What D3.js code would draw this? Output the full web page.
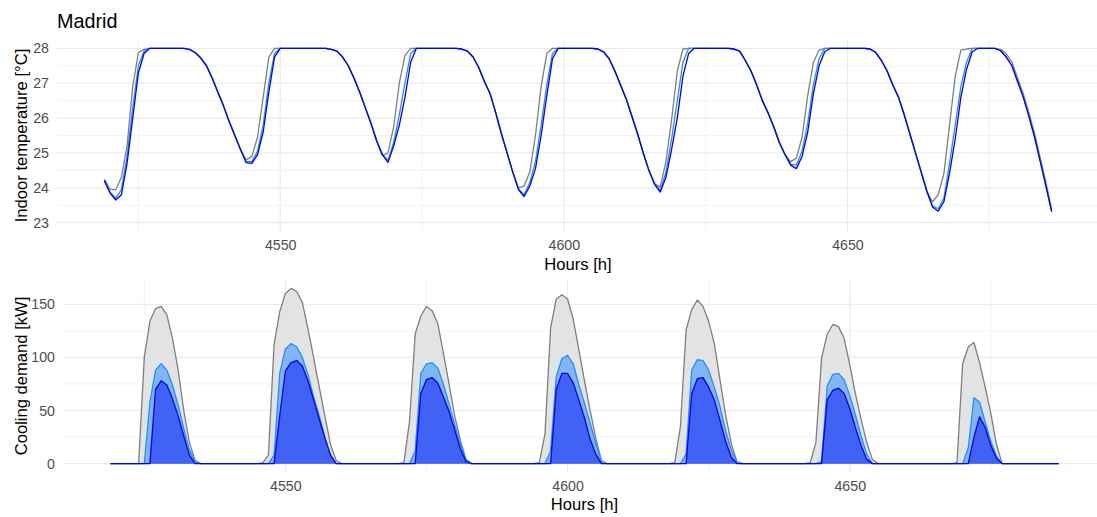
<!DOCTYPE html>
<html>
<head>
<meta charset="utf-8">
<script src="https://cdn.jsdelivr.net/npm/d3@7"></script>
<style>
  body { margin: 0; background: #fff; }
  svg { display: block; }
  text { font-family: "Liberation Sans", Arial, sans-serif; }
</style>
</head>
<body>
<svg id="chart" width="1097" height="517"></svg>
<script>
// Hourly simulation output for Madrid, starting at hour 4519.
const hourStart = 4519;

// Indoor temperature [°C], one value per hour (4519–4686)
const tempGrey = [
  24.25, 23.96, 23.94, 24.30, 25.20, 26.90, 27.88, 27.97, 28, 28, 28, 28, 28, 28, 28, 27.97, 27.88, 27.72, 27.50, 27.15, 26.75, 26.35, 25.90, 25.50,
  25.10, 24.80, 24.90, 25.45, 26.60, 27.75, 28, 28, 28, 28, 28, 28, 28, 28, 28, 28, 27.97, 27.92, 27.75, 27.50, 27.15, 26.75, 26.30, 25.85,
  25.35, 24.92, 25.00, 25.75, 27.00, 27.80, 28, 28, 28, 28, 28, 28, 28, 28, 28, 27.98, 27.92, 27.75, 27.45, 27.05, 26.70, 26.15, 25.55, 25.00,
  24.45, 24.00, 24.05, 24.45, 25.50, 26.90, 27.85, 28, 28, 28, 28, 28, 28, 28, 28, 27.98, 27.90, 27.70, 27.35, 26.95, 26.55, 26.05, 25.55, 25.00,
  24.50, 24.12, 24.02, 24.75, 25.95, 27.35, 27.98, 28, 28, 28, 28, 28, 28, 28, 28, 27.98, 27.92, 27.65, 27.35, 26.95, 26.50, 26.15, 25.75, 25.30,
  24.95, 24.75, 24.85, 25.45, 26.65, 27.60, 27.95, 28, 28, 28, 28, 28, 28, 28, 28, 27.98, 27.88, 27.65, 27.35, 26.95, 26.60, 26.10, 25.55, 25.00,
  24.45, 23.90, 23.60, 23.80, 24.40, 25.80, 27.20, 27.95, 27.98, 28, 28, 28, 28, 28, 27.97, 27.85, 27.60, 27.15, 26.70, 26.15, 25.55, 24.85, 24.15, 23.38
];
const tempLight = [
  24.20, 23.88, 23.70, 23.95, 24.90, 26.30, 27.50, 27.92, 28, 28, 28, 28, 28, 28, 28, 27.97, 27.88, 27.72, 27.50, 27.15, 26.75, 26.35, 25.90, 25.50,
  25.10, 24.75, 24.75, 25.05, 25.80, 27.00, 27.85, 28, 28, 28, 28, 28, 28, 28, 28, 28, 27.97, 27.92, 27.75, 27.50, 27.15, 26.75, 26.30, 25.85,
  25.35, 24.97, 24.78, 25.30, 26.10, 27.00, 27.85, 28, 28, 28, 28, 28, 28, 28, 28, 27.98, 27.92, 27.75, 27.45, 27.05, 26.70, 26.15, 25.55, 25.00,
  24.45, 23.97, 23.80, 24.15, 24.75, 25.80, 26.95, 27.85, 28, 28, 28, 28, 28, 28, 28, 27.98, 27.90, 27.70, 27.35, 26.95, 26.55, 26.05, 25.55, 25.00,
  24.50, 24.12, 23.92, 24.45, 25.40, 26.50, 27.60, 28, 28, 28, 28, 28, 28, 28, 28, 27.98, 27.92, 27.65, 27.35, 26.95, 26.50, 26.15, 25.75, 25.30,
  24.95, 24.68, 24.65, 25.05, 25.85, 26.95, 27.70, 28, 28, 28, 28, 28, 28, 28, 28, 27.98, 27.88, 27.65, 27.35, 26.95, 26.60, 26.10, 25.55, 25.00,
  24.45, 23.90, 23.48, 23.40, 23.70, 24.70, 25.80, 26.90, 27.60, 28, 28, 28, 28, 28, 27.93, 27.75, 27.50, 27.05, 26.60, 26.05, 25.45, 24.75, 24.05, 23.32
];
const tempBlue = [
  24.20, 23.85, 23.65, 23.80, 24.70, 26.00, 27.30, 27.85, 28, 28, 28, 28, 28, 28, 28, 27.97, 27.88, 27.72, 27.50, 27.15, 26.75, 26.35, 25.90, 25.50,
  25.10, 24.72, 24.70, 24.95, 25.60, 26.75, 27.75, 28, 28, 28, 28, 28, 28, 28, 28, 28, 27.97, 27.92, 27.75, 27.50, 27.15, 26.75, 26.30, 25.85,
  25.35, 24.95, 24.73, 25.20, 25.80, 26.60, 27.60, 28, 28, 28, 28, 28, 28, 28, 28, 27.98, 27.92, 27.75, 27.45, 27.05, 26.70, 26.15, 25.55, 25.00,
  24.45, 23.95, 23.75, 24.05, 24.55, 25.50, 26.65, 27.70, 28, 28, 28, 28, 28, 28, 28, 27.98, 27.90, 27.70, 27.35, 26.95, 26.55, 26.05, 25.55, 25.00,
  24.50, 24.10, 23.88, 24.30, 25.10, 26.00, 27.20, 27.85, 28, 28, 28, 28, 28, 28, 28, 27.98, 27.92, 27.65, 27.35, 26.95, 26.50, 26.15, 25.75, 25.30,
  24.95, 24.65, 24.55, 24.90, 25.60, 26.70, 27.50, 27.90, 28, 28, 28, 28, 28, 28, 28, 27.98, 27.88, 27.65, 27.35, 26.95, 26.60, 26.10, 25.55, 25.00,
  24.45, 23.90, 23.45, 23.33, 23.60, 24.42, 25.40, 26.60, 27.40, 27.90, 28, 28, 28, 28, 27.93, 27.75, 27.50, 27.05, 26.60, 26.05, 25.45, 24.75, 24.05, 23.32
];

// Cooling demand [kW], one value per hour (4519–4687)
const coolGrey = [
  0, 0, 0, 0, 0, 0, 100, 134, 146, 148, 140, 118, 88, 50, 20, 3, 0, 0, 0, 0, 0, 0, 0, 0,
  0, 0, 0, 1, 8, 112, 143, 160, 165, 162, 152, 127, 100, 72, 45, 18, 3, 0, 0, 0, 0, 0, 0, 0,
  0, 0, 0, 0, 1, 40, 122, 139, 148, 144, 132, 104, 75, 45, 22, 4, 0, 0, 0, 0, 0, 0, 0, 0,
  0, 0, 0, 0, 1, 28, 128, 155, 159, 155, 136, 107, 78, 50, 24, 3, 0, 0, 0, 0, 0, 0, 0, 0,
  0, 0, 0, 0, 1, 35, 126, 145, 154, 148, 134, 113, 79, 46, 19, 2, 0, 0, 0, 0, 0, 0, 0, 0,
  0, 0, 0, 0, 1, 20, 99, 122, 131, 129, 118, 93, 66, 42, 20, 4, 0, 0, 0, 0, 0, 0, 0, 0,
  0, 0, 0, 0, 0, 0, 1, 94, 110, 114, 95, 72, 47, 18, 0, 0, 0, 0, 0, 0, 0, 0, 0, 0, 0
];
const coolLight = [
  0, 0, 0, 0, 0, 0, 0, 58, 88, 94, 88, 74, 55, 33, 13, 2, 0, 0, 0, 0, 0, 0, 0, 0,
  0, 0, 0, 0, 0, 8, 85, 108, 113, 110, 100, 84, 63, 45, 25, 8, 0, 0, 0, 0, 0, 0, 0, 0,
  0, 0, 0, 0, 0, 0, 12, 85, 94, 95, 90, 75, 56, 37, 19, 3, 0, 0, 0, 0, 0, 0, 0, 0,
  0, 0, 0, 0, 0, 0, 12, 82, 99, 102, 94, 74, 57, 38, 19, 1, 0, 0, 0, 0, 0, 0, 0, 0,
  0, 0, 0, 0, 0, 0, 9, 88, 98, 97, 88, 72, 54, 31, 13, 1, 0, 0, 0, 0, 0, 0, 0, 0,
  0, 0, 0, 0, 0, 0, 2, 73, 84, 85, 79, 64, 46, 26, 9, 0, 0, 0, 0, 0, 0, 0, 0, 0,
  0, 0, 0, 0, 0, 0, 0, 0, 15, 62, 58, 39, 21, 7, 0, 0, 0, 0, 0, 0, 0, 0, 0, 0, 0
];
const coolBlue = [
  0, 0, 0, 0, 0, 0, 0, 0, 70, 78, 74, 61, 45, 26, 8, 0, 0, 0, 0, 0, 0, 0, 0, 0,
  0, 0, 0, 0, 0, 0, 45, 87, 95, 97, 92, 78, 60, 42, 24, 8, 0, 0, 0, 0, 0, 0, 0, 0,
  0, 0, 0, 0, 0, 0, 0, 66, 79, 81, 76, 63, 49, 32, 14, 2, 0, 0, 0, 0, 0, 0, 0, 0,
  0, 0, 0, 0, 0, 0, 0, 70, 85, 85, 76, 60, 43, 23, 9, 0, 0, 0, 0, 0, 0, 0, 0, 0,
  0, 0, 0, 0, 0, 0, 0, 66, 80, 81, 72, 60, 41, 21, 6, 0, 0, 0, 0, 0, 0, 0, 0, 0,
  0, 0, 0, 0, 0, 0, 0, 60, 69, 71, 66, 52, 34, 17, 4, 0, 0, 0, 0, 0, 0, 0, 0, 0,
  0, 0, 0, 0, 0, 0, 0, 0, 0, 25, 44, 34, 17, 5, 0, 0, 0, 0, 0, 0, 0, 0, 0, 0, 0
];

// Axis breaks
const hourTicks = [4550, 4600, 4650];
const hourMinor = [4525, 4575, 4625, 4675];
const tempTicks = [23, 24, 25, 26, 27, 28];
const tempMinor = [23.5, 24.5, 25.5, 26.5, 27.5];
const tempLimits = [23, 28];
const coolTicks = [0, 50, 100, 150];
const coolMinor = [25, 75, 125];

const seriesStyle = [
  { line: "#7f7f7f", fill: "#e3e3e3" },
  { line: "#1e90ff", fill: "#80b6f2" },
  { line: "#0000ff", fill: "#4262f6" }
];

const svg = d3.select("#chart");
const gridColor = "#ebebeb";
const intFmt = d3.format("d");
const tickFont = 14.2;

// 5 % padding on both ends, like the default continuous expansion
function expand([a, b], f = 0.05) {
  const p = (b - a) * f;
  return [a - p, b + p];
}

function drawGrid(g, x, y, xs, xsMinor, ys, ysMinor) {
  const [x0, x1] = x.range();
  const [y0, y1] = y.range();
  const grid = g.append("g");
  grid.selectAll("line.ym").data(ysMinor).join("line")
    .attr("x1", x0).attr("x2", x1).attr("y1", d => y(d)).attr("y2", d => y(d))
    .attr("stroke", gridColor).attr("stroke-width", 0.6);
  grid.selectAll("line.xm").data(xsMinor).join("line")
    .attr("y1", y0).attr("y2", y1).attr("x1", d => x(d)).attr("x2", d => x(d))
    .attr("stroke", gridColor).attr("stroke-width", 0.6);
  grid.selectAll("line.yM").data(ys).join("line")
    .attr("x1", x0).attr("x2", x1).attr("y1", d => y(d)).attr("y2", d => y(d))
    .attr("stroke", gridColor).attr("stroke-width", 1.2);
  grid.selectAll("line.xM").data(xs).join("line")
    .attr("y1", y0).attr("y2", y1).attr("x1", d => x(d)).attr("x2", d => x(d))
    .attr("stroke", gridColor).attr("stroke-width", 1.2);
}

function drawAxes(x, y, xs, ys) {
  const [yBottom] = y.range();
  const [xLeft] = x.range();
  const ax = svg.append("g").attr("transform", `translate(0,${yBottom})`)
    .call(d3.axisBottom(x).tickValues(xs).tickFormat(intFmt).tickSize(0).tickPadding(9));
  const ay = svg.append("g").attr("transform", `translate(${xLeft},0)`)
    .call(d3.axisLeft(y).tickValues(ys).tickFormat(intFmt).tickSize(0).tickPadding(8));
  [ax, ay].forEach(a => {
    a.select(".domain").remove();
    a.selectAll("text")
      .attr("font-family", '"Liberation Sans", Arial, sans-serif')
      .attr("font-size", tickFont).attr("fill", "#4d4d4d");
  });
}

function axisTitles(x, y, xTitle, yTitle, xBase) {
  const [xa, xb] = x.range();
  const [ya, yb] = y.range();
  svg.append("text").attr("x", (xa + xb) / 2).attr("y", xBase)
    .attr("text-anchor", "middle").attr("font-size", 16.6).attr("fill", "#000")
    .text(xTitle);
  svg.append("text")
    .attr("transform", `translate(27,${(ya + yb) / 2}) rotate(-90)`)
    .attr("text-anchor", "middle").attr("font-size", 16.6).attr("fill", "#000")
    .text(yTitle);
}

// ---------- Indoor temperature panel ----------
const hoursT = tempBlue.map((_, i) => hourStart + i);
const xT = d3.scaleLinear().domain(expand(d3.extent(hoursT))).range([57, 1099]);
const yT = d3.scaleLinear().domain(expand(tempLimits)).range([231.4, 39.6]);

const gT = svg.append("g");
drawGrid(gT, xT, yT, hourTicks, hourMinor, tempTicks, tempMinor);

const lineT = d3.line().x((d, i) => xT(hourStart + i)).y(d => yT(d));
[tempGrey, tempLight, tempBlue].forEach((s, k) => {
  gT.append("path").datum(s).attr("d", lineT)
    .attr("fill", "none").attr("stroke", seriesStyle[k].line)
    .attr("stroke-width", 1.3).attr("stroke-linejoin", "round");
});
drawAxes(xT, yT, hourTicks, tempTicks);
axisTitles(xT, yT, "Hours [h]", "Indoor temperature [°C]", 270);

// ---------- Cooling demand panel ----------
const hoursC = coolBlue.map((_, i) => hourStart + i);
const coolMax = d3.max([coolGrey, coolLight, coolBlue].flat());
const xC = d3.scaleLinear().domain(expand(d3.extent(hoursC))).range([63, 1106]);
const yC = d3.scaleLinear().domain(expand([0, coolMax])).range([472.4, 279.6]);

const gC = svg.append("g");
drawGrid(gC, xC, yC, hourTicks, hourMinor, coolTicks, coolMinor);

const areaC = d3.area().x((d, i) => xC(hourStart + i)).y0(yC(0)).y1(d => yC(d));
const lineC = d3.line().x((d, i) => xC(hourStart + i)).y(d => yC(d));
[coolGrey, coolLight, coolBlue].forEach((s, k) => {
  gC.append("path").datum(s).attr("d", areaC).attr("fill", seriesStyle[k].fill);
  gC.append("path").datum(s).attr("d", lineC)
    .attr("fill", "none").attr("stroke", seriesStyle[k].line)
    .attr("stroke-width", 1.3).attr("stroke-linejoin", "round");
});
drawAxes(xC, yC, hourTicks, coolTicks);
axisTitles(xC, yC, "Hours [h]", "Cooling demand [kW]", 510);

// ---------- Title ----------
svg.append("text").attr("x", 57).attr("y", 28)
  .attr("font-size", 19.8).attr("fill", "#000").text("Madrid");
</script>
</body>
</html>
